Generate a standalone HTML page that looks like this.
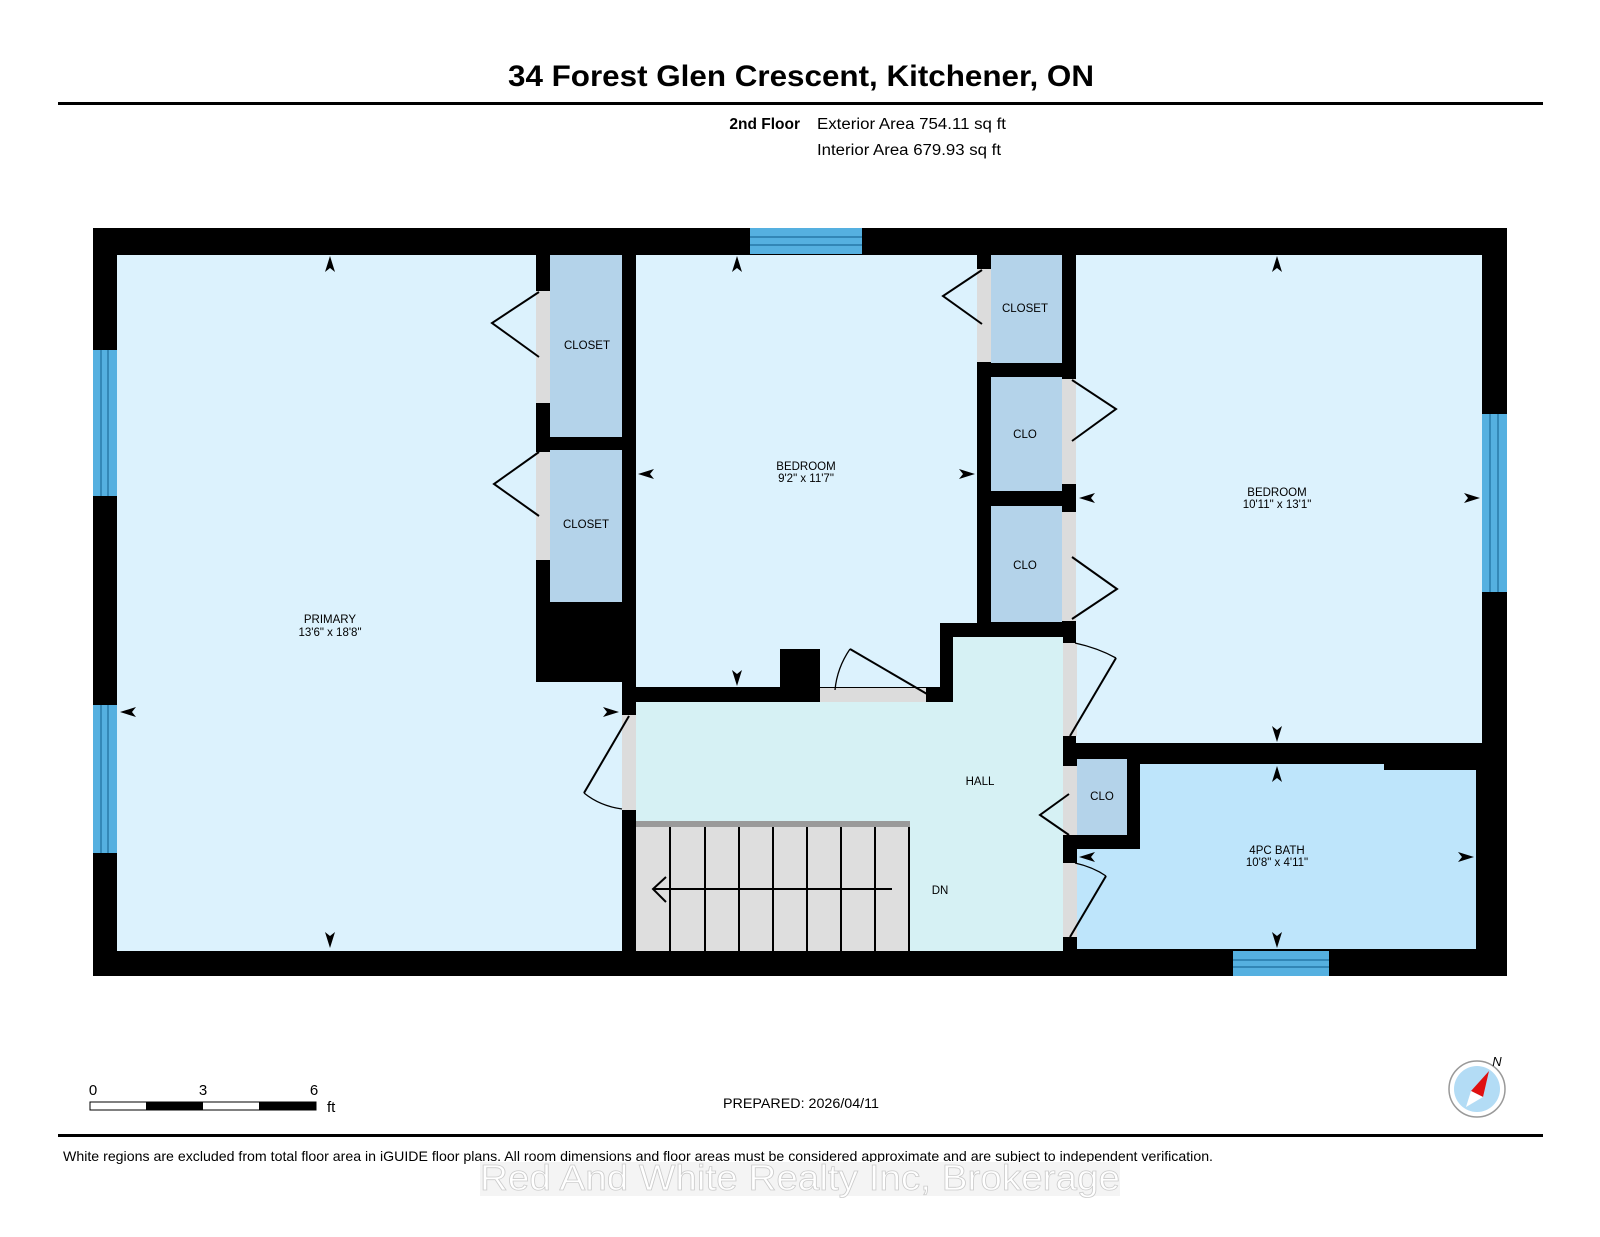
<!DOCTYPE html>
<html><head><meta charset="utf-8"><style>
html,body{margin:0;padding:0;background:#fff;}
svg{display:block;}
text{font-family:"Liberation Sans",Arial,sans-serif;}
</style></head><body>
<svg width="1600" height="1237" viewBox="0 0 1600 1237" xmlns="http://www.w3.org/2000/svg">
<rect width="1600" height="1237" fill="#fff"/>
<text x="508" y="86" font-size="30" font-weight="bold" textLength="586" lengthAdjust="spacingAndGlyphs" fill="#000">34 Forest Glen Crescent, Kitchener, ON</text>
<rect x="58" y="102" width="1485" height="3" fill="#000"/>
<text x="800" y="129" font-size="15.5" font-weight="bold" text-anchor="end">2nd Floor</text>
<text x="817" y="129" font-size="15.5" textLength="189" lengthAdjust="spacingAndGlyphs">Exterior Area 754.11 sq ft</text>
<text x="817" y="155" font-size="15.5" textLength="184" lengthAdjust="spacingAndGlyphs">Interior Area 679.93 sq ft</text>

<rect x="93" y="228" width="1414" height="748" fill="#000"/>
<g fill="#dcf2fd">
<rect x="117" y="255" width="505" height="696"/>
<rect x="636" y="255" width="341" height="432"/>
<rect x="1076" y="255" width="406" height="488"/>
</g>
<g fill="#b4d3ea">
<rect x="550" y="255" width="72" height="182"/>
<rect x="550" y="450" width="72" height="152"/>
<rect x="991" y="255" width="71" height="108"/>
<rect x="991" y="377" width="71" height="114"/>
<rect x="991" y="506" width="71" height="116"/>
<rect x="1077" y="759" width="50" height="76"/>
</g>
<rect x="536" y="437" width="86" height="13" fill="#000"/>
<polygon points="1140,764 1384,764 1384,770 1476,770 1476,949 1077,949 1077,849 1140,849" fill="#bee5fb"/>
<rect x="536" y="602" width="100" height="80" fill="#000"/>
<rect x="536" y="255" width="14" height="427" fill="#000"/>
<rect x="622" y="255" width="14" height="696" fill="#000"/>
<rect x="780" y="649" width="40" height="53" fill="#000"/>
<rect x="636" y="687" width="317" height="15" fill="#000"/>
<rect x="940" y="623" width="135" height="14" fill="#000"/>
<rect x="940" y="623" width="13" height="79" fill="#000"/>
<polygon points="636,702 953,702 953,637 1063,637 1063,951 636,951" fill="#d6f1f4"/>
<rect x="636" y="827" width="274" height="124" fill="#dedede"/>
<rect x="636" y="821" width="274" height="6" fill="#9a9a9a"/>
<g stroke="#000" stroke-width="2">
<line x1="670" y1="827" x2="670" y2="951"/><line x1="705" y1="827" x2="705" y2="951"/>
<line x1="739" y1="827" x2="739" y2="951"/><line x1="773" y1="827" x2="773" y2="951"/>
<line x1="807" y1="827" x2="807" y2="951"/><line x1="841" y1="827" x2="841" y2="951"/>
<line x1="875" y1="827" x2="875" y2="951"/><line x1="909" y1="827" x2="909" y2="951"/>
<line x1="653" y1="889" x2="892" y2="889"/>
<polyline points="666,877 653,889 666,902" fill="none"/>
</g>
<g fill="#dcdcdc">
<rect x="536" y="291" width="14" height="112"/>
<rect x="536" y="452" width="14" height="108"/>
<rect x="622" y="715" width="14" height="95"/>
<rect x="820" y="688" width="106" height="14"/>
<rect x="977" y="269" width="14" height="93"/>
<rect x="1062" y="379" width="14" height="105"/>
<rect x="1062" y="512" width="14" height="109"/>
<rect x="1063" y="643" width="14" height="93"/>
<rect x="1063" y="766" width="14" height="69"/>
<rect x="1063" y="863" width="14" height="74"/>
</g>
<g fill="#55b0e0">
<rect x="93" y="350" width="24" height="146"/>
<rect x="93" y="705" width="24" height="148"/>
<rect x="750" y="228" width="112" height="26"/>
<rect x="1482" y="414" width="25" height="178"/>
<rect x="1233" y="951" width="96" height="25"/>
</g>
<g stroke="#1f6e9c" stroke-width="1.2">
<line x1="101" y1="350" x2="101" y2="496"/><line x1="108" y1="350" x2="108" y2="496"/>
<line x1="101" y1="705" x2="101" y2="853"/><line x1="108" y1="705" x2="108" y2="853"/>
<line x1="750" y1="237" x2="862" y2="237"/><line x1="750" y1="245" x2="862" y2="245"/>
<line x1="1490" y1="414" x2="1490" y2="592"/><line x1="1498" y1="414" x2="1498" y2="592"/>
<line x1="1233" y1="960" x2="1329" y2="960"/><line x1="1233" y1="967" x2="1329" y2="967"/>
</g>
<g stroke="#000" stroke-width="2" fill="none">
<polyline points="539,292 492,323 539,357"/>
<polyline points="539,452 494,484 539,516"/>
<polyline points="982,270 943,296 982,324"/>
<polyline points="1072,380 1116,409 1072,441"/>
<polyline points="1072,557 1117,589 1072,619"/>
<polyline points="1069,794 1040,815 1069,835"/>
<line x1="629" y1="716" x2="584" y2="793"/>
<path d="M584,793 Q600,806 622,809" stroke-width="1.3"/>
<line x1="927" y1="694" x2="850" y2="649"/>
<path d="M850,649 Q837,668 835,690" stroke-width="1.3"/>
<path d="M1075,643 Q1098,648 1116,658" stroke-width="1.3"/>
<line x1="1116" y1="658" x2="1070" y2="736"/>
<path d="M1075,863 Q1093,867 1106,876" stroke-width="1.3"/>
<line x1="1106" y1="876" x2="1070" y2="937"/>
</g>
<g fill="#000">
<polygon points="330,256 325,272 330,268 335,272"/>
<polygon points="330,948 325,932 330,936 335,932"/>
<polygon points="120,712 136,707 132,712 136,717"/>
<polygon points="619,712 603,707 607,712 603,717"/>
<polygon points="737,256 732,272 737,268 742,272"/>
<polygon points="737,686 732,670 737,674 742,670"/>
<polygon points="638,474 654,469 650,474 654,479"/>
<polygon points="975,474 959,469 963,474 959,479"/>
<polygon points="1277,256 1272,272 1277,268 1282,272"/>
<polygon points="1277,742 1272,726 1277,730 1282,726"/>
<polygon points="1079,498 1095,493 1091,498 1095,503"/>
<polygon points="1480,498 1464,493 1468,498 1464,503"/>
<polygon points="1277,766 1272,782 1277,778 1282,782"/>
<polygon points="1277,948 1272,932 1277,936 1282,932"/>
<polygon points="1079,857 1095,852 1091,857 1095,862"/>
<polygon points="1474,857 1458,852 1462,857 1458,862"/>
</g>
<g font-size="11.5" text-anchor="middle" fill="#000">
<text x="330" y="623">PRIMARY</text><text x="330" y="636">13'6" x 18'8"</text>
<text x="806" y="470">BEDROOM</text><text x="806" y="482">9'2" x 11'7"</text>
<text x="587" y="349">CLOSET</text>
<text x="586" y="528">CLOSET</text>
<text x="1025" y="312">CLOSET</text>
<text x="1025" y="438">CLO</text>
<text x="1025" y="569">CLO</text>
<text x="1277" y="496">BEDROOM</text><text x="1277" y="508">10'11" x 13'1"</text>
<text x="980" y="785">HALL</text>
<text x="1102" y="800">CLO</text>
<text x="1277" y="854">4PC BATH</text><text x="1277" y="866">10'8" x 4'11"</text>
<text x="940" y="894">DN</text>
</g>
<g font-size="15">
<text x="93" y="1095" text-anchor="middle">0</text>
<text x="203" y="1095" text-anchor="middle">3</text>
<text x="314" y="1095" text-anchor="middle">6</text>
<text x="327" y="1112">ft</text>
</g>
<rect x="90" y="1102" width="226" height="8" fill="#fff" stroke="#000" stroke-width="1"/>
<rect x="146" y="1102" width="57" height="8" fill="#000"/>
<rect x="259" y="1102" width="57" height="8" fill="#000"/>
<text x="723" y="1108" font-size="14" textLength="156" lengthAdjust="spacingAndGlyphs">PREPARED: 2026/04/11</text>
<circle cx="1477" cy="1089" r="28" fill="#fff" stroke="#999" stroke-width="1.5"/>
<circle cx="1477" cy="1089" r="23" fill="#b3dcf5"/>
<polygon points="1489,1071 1471,1091 1483,1097" fill="#e01010"/>
<polygon points="1466,1107 1471,1091 1483,1097" fill="#fff"/>
<text x="1497" y="1066" font-size="13" font-style="italic" text-anchor="middle">N</text>
<rect x="58" y="1134" width="1485" height="3" fill="#000"/>
<text x="63" y="1161" font-size="14" textLength="1150" lengthAdjust="spacingAndGlyphs">White regions are excluded from total floor area in iGUIDE floor plans. All room dimensions and floor areas must be considered approximate and are subject to independent verification.</text>
<rect x="480" y="1162" width="640" height="34" fill="#f4f4f4"/>
<text x="480" y="1190" font-size="36" textLength="640" lengthAdjust="spacingAndGlyphs" fill="#fff" stroke="#ccc" stroke-width="0.8">Red And White Realty Inc, Brokerage</text>
</svg>
</body></html>
